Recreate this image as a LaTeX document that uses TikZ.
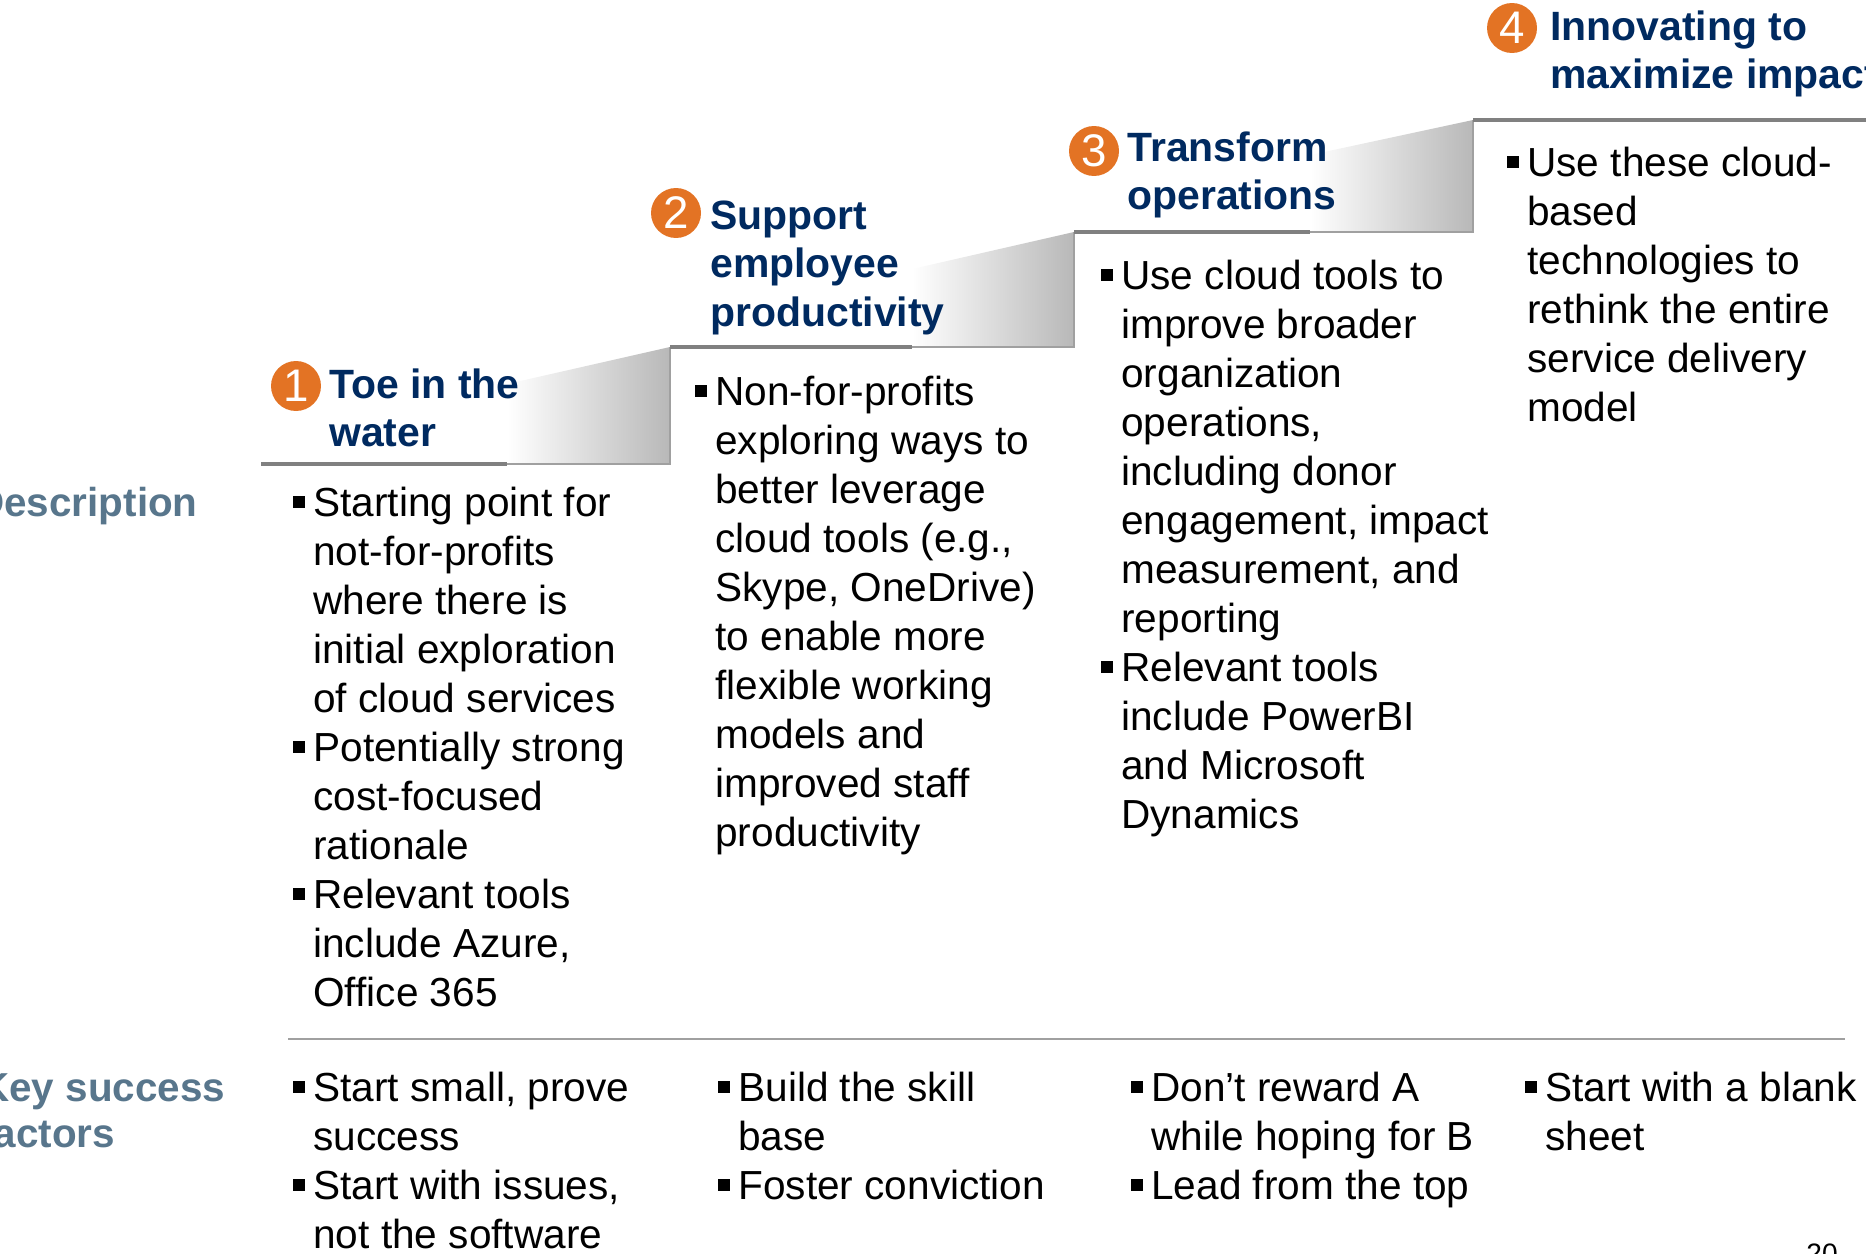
\documentclass[tikz,border=0pt]{standalone}
\usepackage{fontspec}
\setmainfont{Liberation Sans}
\usepackage{xcolor}

\definecolor{titleblue}{RGB}{0,42,96}
\definecolor{labelgray}{RGB}{88,118,140}
\definecolor{steporange}{RGB}{227,115,36}
\definecolor{stepgray}{RGB}{128,128,128}
\definecolor{shadegray}{RGB}{184,184,184}
\definecolor{risergray}{RGB}{160,160,160}

\newcommand{\bx}{\rule[4.6pt]{6.8pt}{6.8pt}}

\tikzset{
  body/.style={anchor=base west, inner sep=0pt, font=\fontsize{23.1pt}{27.9pt}\selectfont},
  title/.style={anchor=base west, inner sep=0pt, text=titleblue, font=\fontsize{23.3pt}{27.8pt}\selectfont\bfseries},
  rowlabel/.style={inner sep=0pt, text=labelgray, font=\fontsize{23pt}{26.2pt}\selectfont\bfseries},
  num/.style={circle, fill=steporange, text=white, inner sep=0pt, minimum size=1cm, font=\fontsize{26pt}{26pt}\selectfont},
  stepline/.style={draw=stepgray, line width=2.3pt},
  stepedge/.style={draw=risergray, line width=1pt},
  stepshade/.style={left color=white, right color=shadegray},
  sepline/.style={draw=risergray, line width=1.4pt}
}

\begin{document}
\begin{tikzpicture}[x=0.02cm, y=-0.02cm]
\useasboundingbox (0,0) rectangle (1866,1254);
\clip (0,0) rectangle (1866,1254);

% stairs
\shade[stepshade] (507,464) -- (507,384) -- (670,347) -- (670,464) -- cycle;
\draw[stepline] (261,464) -- (507,464);
\draw[stepedge] (507,464) -- (670,464) -- (670,347);

\shade[stepshade] (912,347) -- (912,269) -- (1074,232) -- (1074,347) -- cycle;
\draw[stepline] (670,347) -- (912,347);
\draw[stepedge] (912,347) -- (1074,347) -- (1074,232);

\shade[stepshade] (1310,232) -- (1310,155) -- (1473,120) -- (1473,232) -- cycle;
\draw[stepline] (1074,232) -- (1310,232);
\draw[stepedge] (1310,232) -- (1473,232) -- (1473,120);

\draw[stepline] (1473,120) -- (1866,120);

% step titles
\node[num] (n1) at (296,386) {1};
\node[title] (t1) at (329,398) {\begin{tabular}[t]{@{}l@{}}Toe in the\\ water\end{tabular}};
\node[num] (n2) at (676,213) {2};
\node[title] (t2) at (710,229) {\begin{tabular}[t]{@{}l@{}}Support\\ employee\\ productivity\end{tabular}};
\node[num] (n3) at (1094,151) {3};
\node[title] (t3) at (1127,161) {\begin{tabular}[t]{@{}l@{}}Transform\\ operations\end{tabular}};
\node[num] (n4) at (1512,28) {4};
\node[title] (t4) at (1550,40) {\begin{tabular}[t]{@{}l@{}}Innovating to\\ maximize impact\end{tabular}};

% row labels
\node[rowlabel, anchor=base east] (desc) at (198,516) {Description};
\node[rowlabel, anchor=base west] (ksf) at (-20,1101) {\begin{tabular}[t]{@{}l@{}}Key success\\ factors\end{tabular}};

% description
\node[body] (d1) at (293,516) {\begin{tabular}[t]{@{}l@{\hspace{4.6pt}}l@{}}
\bx & Starting point for\\
 & not-for-profits\\
 & where there is\\
 & initial exploration\\
 & of cloud services\\
\bx & Potentially strong\\
 & cost-focused\\
 & rationale\\
\bx & Relevant tools\\
 & include Azure,\\
 & Office 365
\end{tabular}};
\node[body] (d2) at (695,405) {\begin{tabular}[t]{@{}l@{\hspace{4.6pt}}l@{}}
\bx & Non-for-profits\\
 & exploring ways to\\
 & better leverage\\
 & cloud tools (e.g.,\\
 & Skype, OneDrive)\\
 & to enable more\\
 & flexible working\\
 & models and\\
 & improved staff\\
 & productivity
\end{tabular}};
\node[body] (d3) at (1101,289) {\begin{tabular}[t]{@{}l@{\hspace{4.6pt}}l@{}}
\bx & Use cloud tools to\\
 & improve broader\\
 & organization\\
 & operations,\\
 & including donor\\
 & engagement, impact\\
 & measurement, and\\
 & reporting\\
\bx & Relevant tools\\
 & include PowerBI\\
 & and Microsoft\\
 & Dynamics
\end{tabular}};
\node[body] (d4) at (1507,176) {\begin{tabular}[t]{@{}l@{\hspace{4.6pt}}l@{}}
\bx & Use these cloud-\\
 & based\\
 & technologies to\\
 & rethink the entire\\
 & service delivery\\
 & model
\end{tabular}};

\draw[sepline] (288,1039) -- (1845,1039);

% key success factors
\node[body] (k1) at (293,1101) {\begin{tabular}[t]{@{}l@{\hspace{4.6pt}}l@{}}
\bx & Start small, prove\\
 & success\\
\bx & Start with issues,\\
 & not the software
\end{tabular}};
\node[body] (k2) at (718,1101) {\begin{tabular}[t]{@{}l@{\hspace{4.6pt}}l@{}}
\bx & Build the skill\\
 & base\\
\bx & Foster conviction
\end{tabular}};
\node[body] (k3) at (1131,1101) {\begin{tabular}[t]{@{}l@{\hspace{4.6pt}}l@{}}
\bx & Don’t reward A\\
 & while hoping for B\\
\bx & Lead from the top
\end{tabular}};
\node[body] (k4) at (1525,1101) {\begin{tabular}[t]{@{}l@{\hspace{4.6pt}}l@{}}
\bx & Start with a blank\\
 & sheet
\end{tabular}};

\node[anchor=north west, inner sep=0pt, font=\fontsize{16pt}{16pt}\selectfont] (page) at (1806,1244) {20};
\end{tikzpicture}
\end{document}
